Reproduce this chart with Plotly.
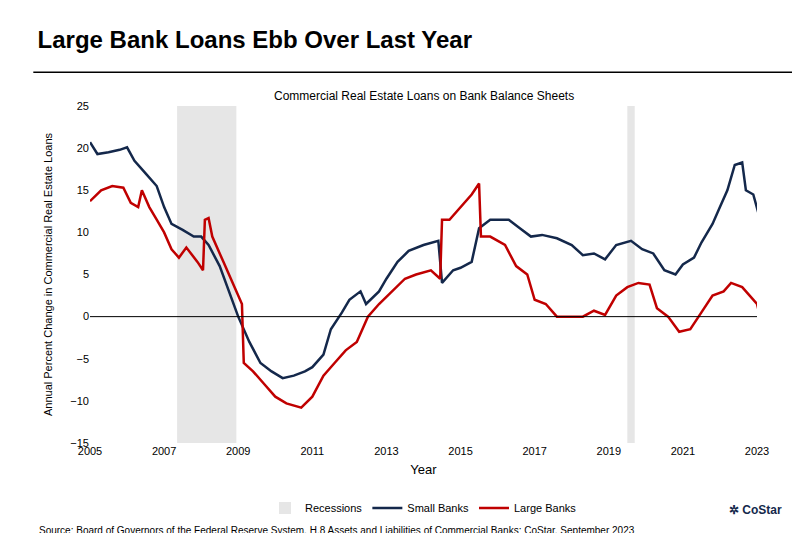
import plotly.graph_objects as go

small_x = [2005.0,2005.2,2005.5,2005.8,2006.0,2006.2,2006.5,2006.8,2007.0,2007.2,2007.5,2007.8,2008.0,2008.2,2008.5,2008.8,2009.0,2009.3,2009.6,2009.9,2010.2,2010.5,2010.8,2011.0,2011.3,2011.5,2011.8,2012.0,2012.3,2012.45,2012.8,2013.0,2013.3,2013.6,2014.0,2014.4,2014.5,2014.8,2015.0,2015.3,2015.5,2015.8,2016.0,2016.3,2016.6,2016.9,2017.2,2017.6,2018.0,2018.3,2018.6,2018.9,2019.2,2019.6,2019.9,2020.2,2020.5,2020.8,2021.0,2021.3,2021.5,2021.8,2022.0,2022.2,2022.4,2022.6,2022.7,2022.9,2023.1]
small_y = [20.7,19.3,19.5,19.8,20.1,18.5,17,15.5,13,11,10.3,9.5,9.5,8.5,6,2.5,0,-3,-5.5,-6.5,-7.3,-7,-6.5,-6,-4.5,-1.5,0.5,2,3,1.5,3,4.5,6.5,7.8,8.5,9,4,5.5,5.8,6.5,10.5,11.5,11.5,11.5,10.5,9.5,9.7,9.3,8.5,7.3,7.5,6.8,8.5,9,8,7.5,5.5,5,6.2,7,8.8,11,13,15,18,18.3,15,14.5,11.3]
large_x = [2005.0,2005.3,2005.6,2005.9,2006.1,2006.3,2006.4,2006.6,2006.8,2007.0,2007.2,2007.4,2007.6,2007.9,2008.05,2008.1,2008.2,2008.3,2008.6,2008.9,2009.1,2009.15,2009.4,2009.7,2010.0,2010.3,2010.7,2011.0,2011.3,2011.6,2011.9,2012.2,2012.5,2012.8,2013.2,2013.5,2013.8,2014.2,2014.45,2014.5,2014.7,2015.0,2015.3,2015.5,2015.55,2015.8,2016.2,2016.5,2016.8,2017.0,2017.3,2017.6,2018.0,2018.3,2018.6,2018.9,2019.2,2019.5,2019.8,2020.1,2020.3,2020.6,2020.9,2021.2,2021.5,2021.8,2022.1,2022.3,2022.6,2022.8,2023.0,2023.1]
large_y = [13.7,15,15.5,15.3,13.5,13,15,13,11.5,10,8,7,8.2,6.5,5.5,11.5,11.7,9.5,6.5,3.5,1.5,-5.5,-6.5,-8,-9.5,-10.3,-10.8,-9.5,-7,-5.5,-4,-3,0,1.5,3.2,4.5,5,5.5,4.5,11.5,11.5,13,14.5,15.8,9.5,9.5,8.5,6,5,2,1.5,0,0,0,0.7,0.2,2.5,3.5,4,3.8,1,0,-1.8,-1.5,0.5,2.5,3,4,3.5,2.5,1.5,-0.3]
recessions = [(2007.35, 2008.95), (2019.5, 2019.7)]
x_ticks = [2005,2007,2009,2011,2013,2015,2017,2019,2021,2023]

fig = go.Figure()
for a, b in recessions:
    fig.add_vrect(x0=a, x1=b, fillcolor="#e6e6e6", line_width=0, layer="below")
fig.add_trace(go.Scatter(x=[None], y=[None], mode="markers", marker=dict(symbol="square", size=12, color="#e6e6e6"), name="Recessions"))
fig.add_trace(go.Scatter(x=small_x, y=small_y, mode="lines", line=dict(color="#14284b", width=2.5), name="Small Banks"))
fig.add_trace(go.Scatter(x=large_x, y=large_y, mode="lines", line=dict(color="#c00000", width=2.5), name="Large Banks"))
fig.add_hline(y=0, line=dict(color="black", width=1))

fig.update_layout(
    width=800, height=533, plot_bgcolor="white", paper_bgcolor="white",
    font=dict(family="Arial, Liberation Sans", size=11, color="black"),
    margin=dict(l=82, r=51, t=98, b=98),
    title=dict(text="<b>Large Bank Loans Ebb Over Last Year</b>", x=0.037, xanchor="left", y=0.957, font=dict(size=24)),
    xaxis=dict(range=[2005,2023], tickvals=x_ticks, showgrid=False, title=dict(text="Year", standoff=8), ticks="", zeroline=False),
    yaxis=dict(range=[-15,25], dtick=5, showgrid=False, zeroline=False, ticks="",
               title=dict(text="Annual Percent Change in Commercial Real Estate Loans", font=dict(size=11))),
    legend=dict(orientation="h", x=0.5, xanchor="center", y=-0.15, yanchor="top", font=dict(size=11)),
    showlegend=True,
)
fig.add_shape(type="line", xref="paper", yref="paper", x0=-0.085, x1=1.06, y0=1.1, y1=1.1, line=dict(color="black", width=1.5))
fig.add_annotation(text="Commercial Real Estate Loans on Bank Balance Sheets", xref="paper", yref="paper", x=0.5, y=1.055, showarrow=False, font=dict(size=12))
fig.add_annotation(text="Source: Board of Governors of the Federal Reserve System, H.8 Assets and Liabilities of Commercial Banks; CoStar, September 2023",
                   xref="paper", yref="paper", x=-0.08, xanchor="left", y=-0.26, yanchor="middle", showarrow=False, font=dict(size=10))
fig.add_annotation(text="<b>✲ CoStar</b>", xref="paper", yref="paper", x=1.04, xanchor="right", y=-0.2, yanchor="middle", showarrow=False, font=dict(size=12, color="#14284b"))
fig.write_html("out.html")
